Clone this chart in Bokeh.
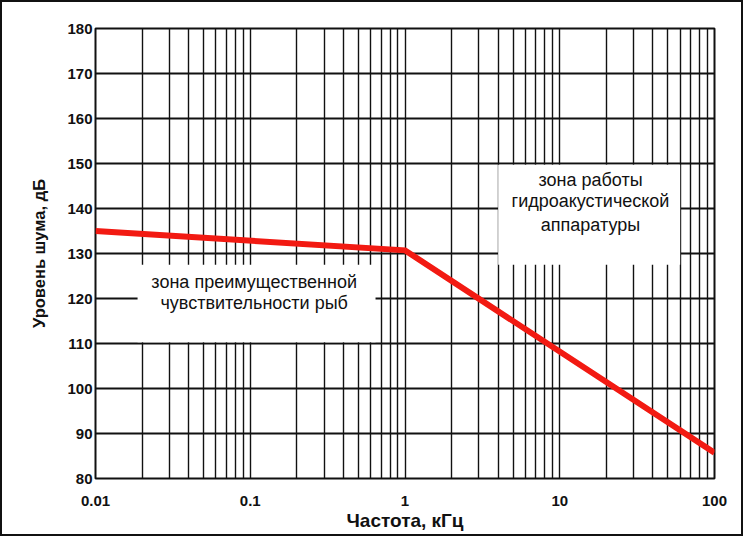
from bokeh.plotting import figure
from bokeh.models import FixedTicker, ColumnDataSource
from bokeh.core.properties import value
from bokeh.embed import file_html
from bokeh.resources import INLINE

# ---- data ----
freq_ticks = [0.01, 0.1, 1, 10, 100]
freq_tick_labels = ["0.01", "0.1", "1", "10", "100"]
decades = [0.01, 0.1, 1, 10]
mantissas = [1, 2, 3, 4, 5, 6, 7, 8, 9]
level_ticks = [80, 90, 100, 110, 120, 130, 140, 150, 160, 170, 180]

curve_freq = [0.01, 1, 100]
curve_level = [135, 130.7, 85.7]

zone_left = [0.0187, 4.0]
zone_right = [0.645, 60.0]
zone_bottom = [110.3, 127.5]
zone_top = [127.5, 149.7]

label_text = ["зона преимущественной", "чувствительности рыб",
              "зона работы", "гидроакустической", "аппаратуры"]
label_freq = [0.106, 0.106, 15.8, 15.8, 15.8]
label_level = [123.6, 118.9, 146.4, 141.6, 136.4]

grid_freq = [m * d for d in decades for m in mantissas] + [100]

FONT = "Liberation Sans"

p = figure(width=743, height=536, x_axis_type="log",
           x_range=(0.01, 100), y_range=(80, 180),
           output_backend="svg", toolbar_location=None,
           min_border_left=93, min_border_top=26,
           min_border_right=31, min_border_bottom=60)
p.styles = {"border": "2px solid #111"}
p.background_fill_color = "white"
p.border_fill_color = "white"
p.outline_line_color = "#111"
p.outline_line_width = 2

# grids
p.xgrid.ticker = FixedTicker(ticks=grid_freq)
p.ygrid.ticker = FixedTicker(ticks=level_ticks)
for g in (p.xgrid, p.ygrid):
    g.grid_line_color = "#111"
    g.grid_line_alpha = 1.0
p.xgrid.grid_line_width = 1.4
p.ygrid.grid_line_width = 1.8

# axes
p.xaxis.ticker = FixedTicker(ticks=freq_ticks)
p.xaxis.major_label_overrides = {t: l for t, l in zip(freq_ticks, freq_tick_labels)}
p.yaxis.ticker = FixedTicker(ticks=level_ticks)
for ax in (p.xaxis, p.yaxis):
    ax.axis_line_color = None
    ax.major_tick_line_color = None
    ax.minor_tick_line_color = None
    ax.major_label_text_font = FONT
    ax.major_label_text_font_style = "bold"
    ax.major_label_text_font_size = "15px"
    ax.major_label_text_color = "#111"
    ax.axis_label_text_font = FONT
    ax.axis_label_text_font_style = "bold"
    ax.axis_label_text_color = "#111"
p.xaxis.major_label_standoff = 11
p.yaxis.major_label_standoff = -3
p.xaxis.axis_label = "Частота, кГц"
p.yaxis.axis_label = "Уровень шума, дБ"
p.xaxis.axis_label_text_font_size = "19px"
p.yaxis.axis_label_text_font_size = "16.5px"
p.xaxis.axis_label_standoff = 1
p.yaxis.axis_label_standoff = 16

# zone boxes (white, hiding the grid)
zones = ColumnDataSource(dict(left=zone_left, right=zone_right,
                              bottom=zone_bottom, top=zone_top))
p.quad(left="left", right="right", bottom="bottom", top="top",
       source=zones, fill_color="white", line_color=None)

# curve
p.line(curve_freq, curve_level, line_color="#f21a12", line_width=6,
       line_join="miter")

# zone texts
labels = ColumnDataSource(dict(x=label_freq, y=label_level, text=label_text))
p.text(x="x", y="y", text="text", source=labels,
       text_font=value(FONT), text_font_size="18px",
       text_align="center", text_baseline="middle", text_color="#111")

open("out.html", "w").write(file_html(p, INLINE))
